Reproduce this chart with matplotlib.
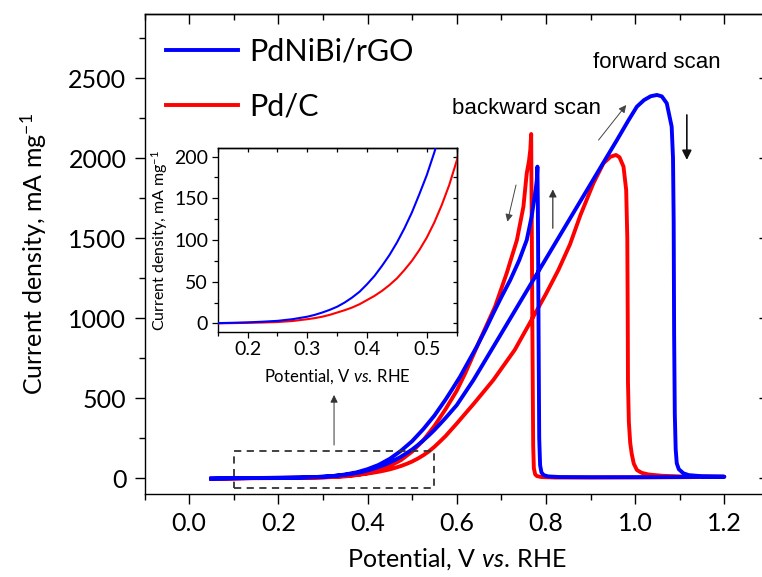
import matplotlib
matplotlib.use("Agg")
import matplotlib.pyplot as plt
from matplotlib.patches import Rectangle
from matplotlib.ticker import MultipleLocator

plt.rcParams['font.family'] = ['Lato', 'DejaVu Sans']
plt.rcParams['mathtext.fontset'] = 'custom'
plt.rcParams['mathtext.rm'] = 'Lato'
plt.rcParams['mathtext.it'] = 'Lato:italic'
plt.rcParams['axes.linewidth'] = 1.0

# ---- cyclic voltammograms (potential in V vs. RHE, current in mA mg^-1) ----
blue_fwd_v = [0.05, 0.10, 0.15, 0.175, 0.20, 0.225, 0.25, 0.275, 0.30, 0.3125, 0.325,
              0.3375, 0.35, 0.3625, 0.375, 0.3875, 0.40, 0.4125, 0.425, 0.4375, 0.45,
              0.4625, 0.475, 0.4875, 0.50, 0.5125, 0.525, 0.5375, 0.55, 0.5625, 0.575,
              0.60, 0.6375, 0.697, 0.74, 0.781, 0.82, 0.847, 0.877, 0.903, 0.93, 0.959,
              0.985, 1.004, 1.02, 1.035, 1.049, 1.06, 1.071, 1.082, 1.085, 1.0865,
              1.0875, 1.089, 1.091, 1.0934, 1.098, 1.108, 1.12, 1.15, 1.20]
blue_fwd_j = [-4, -2, 0.3, 0.7, 1.2, 2, 3, 5, 8, 10.2, 13,
              16.2, 20, 25, 31, 38, 47, 57, 69, 82, 97,
              114, 133, 155, 178, 205, 235, 266, 300, 337, 375,
              455, 612, 889, 1090, 1281, 1463, 1589, 1729, 1850, 1976, 2111,
              2235, 2321, 2362, 2386, 2394, 2385, 2342, 2196, 2000, 1600,
              900, 400, 180, 92, 55, 30, 18, 11, 8]

blue_bwd_v = [1.20, 1.10, 1.00, 0.90, 0.83, 0.805, 0.795, 0.79, 0.787, 0.785, 0.784,
              0.783, 0.782, 0.781, 0.7795, 0.777, 0.7735, 0.768, 0.757, 0.74, 0.72,
              0.70, 0.682, 0.665, 0.645, 0.625, 0.6075, 0.59, 0.575, 0.55, 0.525, 0.50,
              0.475, 0.45, 0.425, 0.40, 0.375, 0.35, 0.325, 0.30, 0.25, 0.20, 0.15,
              0.10, 0.05]
blue_bwd_j = [8, 6, 5, 5, 6, 10, 18, 35, 80, 250, 700,
              1200, 1700, 1946, 1860, 1800, 1737, 1633, 1487, 1360, 1237,
              1130, 1029, 930, 821, 721, 633, 555, 490, 390, 305, 230,
              170, 120, 82, 55, 35, 22, 13, 8, 3, 1, 0,
              -1, -3]

red_fwd_v = [0.05, 0.10, 0.15, 0.175, 0.20, 0.225, 0.25, 0.275, 0.30, 0.3125, 0.325,
             0.3375, 0.35, 0.3625, 0.375, 0.3875, 0.40, 0.4125, 0.425, 0.4375, 0.45,
             0.4625, 0.475, 0.4875, 0.50, 0.5125, 0.525, 0.5375, 0.55, 0.5625, 0.575,
             0.60, 0.64, 0.682, 0.73, 0.776, 0.80, 0.828, 0.854, 0.877, 0.9065, 0.929,
             0.945, 0.957, 0.965, 0.974, 0.980, 0.9825, 0.9835, 0.984, 0.986, 0.989,
             0.9925, 0.997, 1.004, 1.015, 1.03, 1.06, 1.10, 1.20]
red_fwd_j = [-6, -3, 0, 0.3, 0.6, 1, 1.6, 2.8, 5, 6.3, 8,
             10.2, 13, 15.8, 19, 23, 28, 33, 39, 46, 54,
             64, 75, 88, 103, 121, 142, 166, 195, 228, 262,
             340, 470, 612, 800, 1029, 1150, 1300, 1460, 1640, 1842, 1967,
             2008, 2019, 2005, 1946, 1800, 1500, 1000, 600, 350, 220,
             150, 90, 50, 32, 22, 14, 10, 8]

red_bwd_v = [1.20, 1.10, 1.00, 0.90, 0.82, 0.79, 0.78, 0.776, 0.773, 0.7715, 0.7705,
             0.7695, 0.7685, 0.7675, 0.767, 0.765, 0.762, 0.757, 0.7496, 0.735, 0.712,
             0.686, 0.652, 0.619, 0.60, 0.575, 0.55, 0.525, 0.50, 0.475, 0.45, 0.425,
             0.40, 0.375, 0.35, 0.30, 0.25, 0.20, 0.10, 0.05]
red_bwd_j = [7, 5, 4, 3, 3, 6, 12, 22, 60, 200, 600,
             1000, 1500, 1900, 2150, 2050, 1980, 1904, 1696, 1487, 1279,
             1071, 862, 654, 545, 430, 325, 235, 165, 112, 75, 48,
             30, 18, 10, 3, 0.5, -0.5, -2, -4]

series_labels = ['PdNiBi/rGO', 'Pd/C']
series_colors = ['#0000ff', '#ff0000']

x_label = r'$\mathrm{Potential{,}\ V}\ \mathit{vs.}\,\mathrm{RHE}$'
y_label = r'Current density, mA mg$^{-1}$'

W, H = 762, 577
fig = plt.figure(figsize=(W / 100, H / 100), dpi=100)

def frac(left, top, right, bottom):
    return [left / W, 1 - bottom / H, (right - left) / W, (bottom - top) / H]

ax = fig.add_axes(frac(144.5, 14, 768.9, 494))

ax.plot(blue_fwd_v + blue_bwd_v, blue_fwd_j + blue_bwd_j, color=series_colors[0],
        lw=2.8, label=series_labels[0], zorder=4, solid_joinstyle='round')
ax.plot(red_fwd_v + red_bwd_v, red_fwd_j + red_bwd_j, color=series_colors[1],
        lw=2.8, label=series_labels[1], zorder=3, solid_joinstyle='round')

ax.set_xlim(-0.1, 1.3)
ax.set_ylim(-100, 2900)
ax.xaxis.set_major_locator(MultipleLocator(0.2))
ax.xaxis.set_minor_locator(MultipleLocator(0.1))
ax.yaxis.set_major_locator(MultipleLocator(500))
ax.yaxis.set_minor_locator(MultipleLocator(250))
ax.tick_params(which='both', direction='out', labelsize=18, width=1.0)
ax.tick_params(which='major', length=7, pad=6)
ax.tick_params(which='minor', length=4)

# mirrored ticks on the top and right, pointing into the plot
top = ax.secondary_xaxis('top')
top.xaxis.set_major_locator(MultipleLocator(0.2))
top.xaxis.set_minor_locator(MultipleLocator(0.1))
top.tick_params(which='both', direction='in', labeltop=False, width=1.0)
top.tick_params(which='major', length=7)
top.tick_params(which='minor', length=4)
right = ax.secondary_yaxis('right')
right.yaxis.set_major_locator(MultipleLocator(500))
right.yaxis.set_minor_locator(MultipleLocator(250))
right.tick_params(which='both', direction='in', labelright=False, width=1.0)
right.tick_params(which='major', length=7)
right.tick_params(which='minor', length=4)

ax.set_xlabel(x_label, fontsize=18, labelpad=8)
ax.set_ylabel(y_label, fontsize=18, labelpad=14)

leg = ax.legend(loc='upper left', bbox_to_anchor=(0.015, 0.977), frameon=False,
                fontsize=22, handlelength=2.35, handletextpad=0.36, labelspacing=0.9,
                borderaxespad=0)
for line in leg.get_lines():
    line.set_linewidth(2.8)

# region of the inset
ax.add_patch(Rectangle((0.1, -60), 0.45, 230, fill=False, ls=(0, (4, 3)),
                       lw=1.3, ec='#333333', zorder=5))

# scan-direction labels and arrows
ax.text(0.905, 2560, 'forward scan', fontsize=16, family='Liberation Sans',
        ha='left', va='baseline')
ax.text(0.5896, 2275, 'backward scan', fontsize=16, family='Liberation Sans',
        ha='left', va='baseline')

def arrow(tail, head, lw, color, scale):
    ax.annotate('', xy=head, xytext=tail,
                arrowprops=dict(arrowstyle='-|>', lw=lw, color=color,
                                mutation_scale=scale, shrinkA=0, shrinkB=0))

arrow((0.918, 2112), (0.980, 2331), 0.7, '#444444', 11)
arrow((1.116, 2269), (1.116, 1988), 1.2, '#111111', 14)
arrow((0.8155, 1561), (0.8155, 1804), 0.9, '#333333', 11)
arrow((0.733, 1831), (0.7137, 1602), 0.7, '#444444', 11)
arrow((0.325, 206), (0.325, 519), 0.7, '#333333', 11)

# ---- inset: onset region of the forward scans ----
ins = fig.add_axes(frac(217.7, 148.3, 456.7, 331.7))
ins.plot(blue_fwd_v, blue_fwd_j, color=series_colors[0], lw=1.5, zorder=4)
ins.plot(red_fwd_v, red_fwd_j, color=series_colors[1], lw=1.5, zorder=3)
ins.set_xlim(0.15, 0.55)
ins.set_ylim(-10, 210)
ins.xaxis.set_major_locator(MultipleLocator(0.1))
ins.xaxis.set_minor_locator(MultipleLocator(0.05))
ins.yaxis.set_major_locator(MultipleLocator(50))
ins.yaxis.set_minor_locator(MultipleLocator(25))
ins.tick_params(which='both', direction='out', labelsize=14, width=0.9, pad=3)
ins.tick_params(which='major', length=4)
ins.tick_params(which='minor', length=3)
itop = ins.secondary_xaxis('top')
itop.xaxis.set_major_locator(MultipleLocator(0.1))
itop.xaxis.set_minor_locator(MultipleLocator(0.05))
itop.tick_params(which='both', direction='in', labeltop=False, width=0.9, length=3)
iright = ins.secondary_yaxis('right')
iright.yaxis.set_major_locator(MultipleLocator(50))
iright.yaxis.set_minor_locator(MultipleLocator(25))
iright.tick_params(which='both', direction='in', labelright=False, width=0.9, length=3)
ins.set_xlabel(x_label, fontsize=12, labelpad=6)
ins.set_ylabel(y_label, fontsize=11.5, labelpad=3)

fig.savefig('out.png', dpi=100)
